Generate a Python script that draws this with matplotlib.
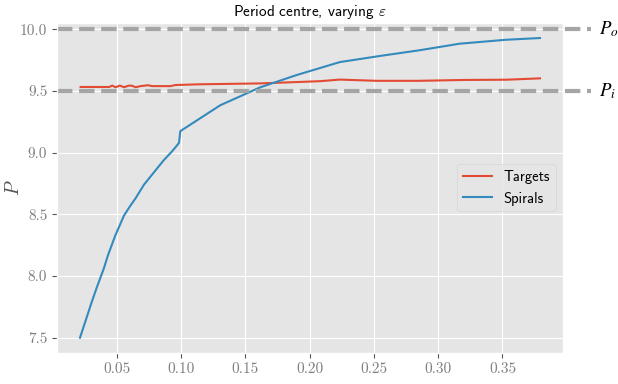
import matplotlib
matplotlib.use("Agg")
import matplotlib.pyplot as plt

plt.style.use("ggplot")
plt.rcParams["mathtext.fontset"] = "cm"

# Data
eps_targets = [0.022, 0.044, 0.0467, 0.049, 0.0526, 0.0557, 0.0595, 0.062, 0.0647,
               0.0686, 0.0743, 0.0777, 0.0919, 0.0957, 0.115, 0.1616, 0.208, 0.2236,
               0.252, 0.285, 0.32, 0.353, 0.3792]
P_targets = [9.533, 9.533, 9.544, 9.531, 9.544, 9.531, 9.544, 9.543, 9.531,
             9.540, 9.547, 9.540, 9.540, 9.549, 9.555, 9.562, 9.580, 9.593,
             9.583, 9.583, 9.590, 9.592, 9.603]

eps_spirals = [0.0215, 0.025, 0.03, 0.035, 0.04, 0.0433, 0.049, 0.0557, 0.06, 0.0647,
               0.0712, 0.0789, 0.0867, 0.093, 0.097, 0.0985, 0.0995, 0.1306, 0.1616,
               0.19, 0.2236, 0.255, 0.285, 0.3167, 0.3529, 0.3792]
P_spirals = [7.50, 7.61, 7.77, 7.92, 8.06, 8.17, 8.33, 8.49, 8.56, 8.63,
             8.74, 8.84, 8.94, 9.01, 9.06, 9.08, 9.175, 9.385, 9.53,
             9.63, 9.735, 9.785, 9.83, 9.884, 9.916, 9.93]

P_outer = 10.0
P_inner = 9.5

fig = plt.figure(figsize=(6.18, 3.84), dpi=100)
ax = fig.add_axes([0.0922, 0.0815, 0.8188, 0.8585])

ax.plot(eps_targets, P_targets, color="#E24A33", lw=1.5, label="Targets")
ax.plot(eps_spirals, P_spirals, color="#348ABD", lw=1.5, label="Spirals")

for val, lab in [(P_outer, r"$P_o$"), (P_inner, r"$P_i$")]:
    ax.axhline(val, xmin=0, xmax=1.055, color="#A5A5A5", lw=3, ls="--", clip_on=False)
    ax.text(1.071, val, lab, transform=ax.get_yaxis_transform(), fontsize=13.5,
            va="center", ha="left", math_fontfamily="stix", color="black")

ax.set_xticks([0.05, 0.10, 0.15, 0.20, 0.25, 0.30, 0.35])
ax.set_xticklabels(["0.05", "0.10", "0.15", "0.20", "0.25", "0.30", "0.35"])
ax.set_yticks([7.5, 8.0, 8.5, 9.0, 9.5, 10.0])
ax.set_yticklabels(["7.5", "8.0", "8.5", "9.0", "9.5", "10.0"])
for t in ax.get_xticklabels() + ax.get_yticklabels():
    t.set_fontfamily("cmr10")
    t.set_fontsize(11)
    t.set_color("#808080")

ax.set_title(r"Period centre, varying $\varepsilon$", fontfamily="cmss10", fontsize=11, pad=5)
ax.set_xlabel(r"$\varepsilon$", fontsize=14, color="#808080", labelpad=1)
ax.set_ylabel(r"$P$", fontsize=14, color="#555555")
ax.yaxis.set_label_coords(-0.067, 0.5)

leg = ax.legend(loc="center right", prop={"family": "cmss10", "size": 10.5}, frameon=True)
leg.get_frame().set_facecolor("#E5E5E5")
leg.get_frame().set_edgecolor("#D0D0D0")

fig.savefig("out.png", dpi=100)
